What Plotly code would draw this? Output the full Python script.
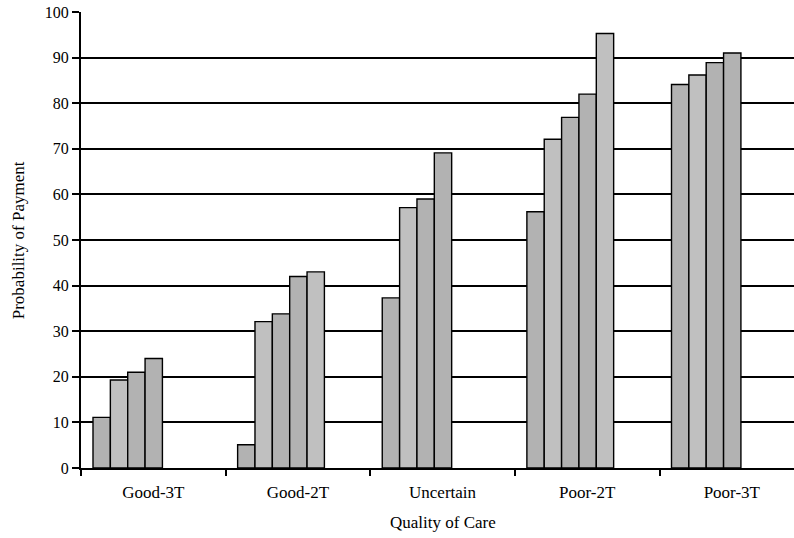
import plotly.graph_objects as go

categories = ["Good-3T", "Good-2T", "Uncertain", "Poor-2T", "Poor-3T"]
series1 = [11.1, 5.1, 37.3, 56.2, 84.1]
series2 = [19.3, 32.1, 57.1, 72.1, 86.2]
series3 = [21.0, 33.8, 59.0, 76.9, 88.9]
series4 = [24.0, 42.0, 69.1, 82.0, 91.0]
series5 = [None, 43.0, None, 95.3, None]
y_ticks = [0, 10, 20, 30, 40, 50, 60, 70, 80, 90, 100]

all_series = [series1, series2, series3, series4, series5]
colors = ["#b2b2b2", "#c0c0c0", "#b2b2b2", "#b2b2b2", "#c0c0c0"]

bar_w = 0.12
start = -0.5 + 12 / 144.6

fig = go.Figure()
for i, (vals, col) in enumerate(zip(all_series, colors)):
    fig.add_trace(go.Bar(
        x=categories, y=vals, width=bar_w, offset=start + i * bar_w,
        marker=dict(color=col, line=dict(color="black", width=1.4)),
        showlegend=False,
    ))

font_family = "Liberation Serif, Times New Roman, serif"
fig.update_layout(
    width=794, height=538,
    margin=dict(l=81, r=0, t=12, b=70),
    plot_bgcolor="white", paper_bgcolor="white",
    barmode="overlay",
    font=dict(family=font_family, size=16, color="black"),
    xaxis=dict(
        type="category", range=[-0.5, 4.43],
        showline=True, linecolor="black", linewidth=2,
        ticks="outside", tickson="boundaries", ticklen=6, tickwidth=2, tickcolor="black",
        ticklabelstandoff=8, showgrid=False,
        tickfont=dict(family=font_family, size=17),
    ),
    yaxis=dict(
        range=[0, 100], tickvals=y_ticks,
        showline=True, linecolor="black", linewidth=2,
        ticks="outside", ticklen=7, tickwidth=1.5, tickcolor="black",
        showgrid=True, gridcolor="black", gridwidth=1.5,
        zeroline=False,
        tickfont=dict(family=font_family, size=16),
    ),
    annotations=[
        dict(text="Quality of Care", xref="paper", yref="paper", x=0.508, y=-0.119,
             xanchor="center", yanchor="middle", showarrow=False,
             font=dict(family=font_family, size=17)),
        dict(text="Probability of Payment", xref="paper", yref="paper", x=-0.088, y=0.5,
             xanchor="center", yanchor="middle", showarrow=False, textangle=-90,
             font=dict(family=font_family, size=17)),
    ],
)

fig.write_html("out.html", config={"displayModeBar": False},
               post_script="document.body.style.margin='0';document.body.style.overflow='hidden';")
